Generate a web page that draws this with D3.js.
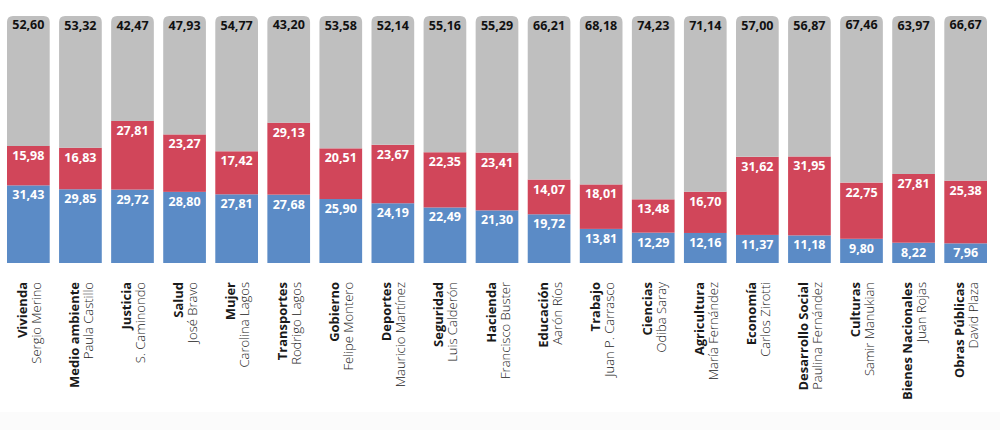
<!DOCTYPE html>
<html>
<head>
<meta charset="utf-8">
<script src="https://cdn.jsdelivr.net/npm/d3@7"></script>
<style>
  body { margin: 0; background: #fff; }
  svg { display: block; font-family: "Open Sans", "Noto Sans", sans-serif; }
  .val { font-size: 12.5px; font-weight: 700; text-anchor: middle; }
  .cat { font-size: 13px; font-weight: 700; fill: #1a1a1a; }
  .who { font-size: 13px; font-weight: 300; fill: #222; }
</style>
</head>
<body>
<div id="chart"></div>
<script>
// Ministerios y ministros
const ministries = ['Vivienda', 'Medio ambiente', 'Justicia', 'Salud', 'Mujer', 'Transportes', 'Gobierno',
    'Deportes', 'Seguridad', 'Hacienda', 'Educación', 'Trabajo', 'Ciencias', 'Agricultura', 'Economía',
    'Desarrollo Social', 'Culturas', 'Bienes Nacionales', 'Obras Públicas'];
const ministers = ['Sergio Merino', 'Paula Castillo', 'S. Caminondo', 'José Bravo', 'Carolina Lagos', 'Rodrigo Lagos',
    'Felipe Montero', 'Mauricio Martínez', 'Luis Calderón', 'Francisco Buster', 'Aarón Ríos', 'Juan P. Carrasco',
    'Odiba Saray', 'María Fernández', 'Carlos Zirotti', 'Paulina Fernández', 'Samir Manukian', 'Juan Rojas', 'David Plaza'];

// Series (%), stacked from bottom: blue, red, gray
const blueValues = [31.43, 29.85, 29.72, 28.80, 27.81, 27.68, 25.90, 24.19, 22.49, 21.30, 19.72, 13.81, 12.29, 12.16, 11.37, 11.18, 9.80, 8.22, 7.96];
const redValues = [15.98, 16.83, 27.81, 23.27, 17.42, 29.13, 20.51, 23.67, 22.35, 23.41, 14.07, 18.01, 13.48, 16.70, 31.62, 31.95, 22.75, 27.81, 25.38];
const grayValues = [52.60, 53.32, 42.47, 47.93, 54.77, 43.20, 53.58, 52.14, 55.16, 55.29, 66.21, 68.18, 74.23, 71.14, 57.00, 56.87, 67.46, 63.97, 66.67];

const W = 1000, H = 430;
const colors = { blue: '#5b8bc6', red: '#d1465a', gray: '#bfbfbf' };

const svg = d3.select('#chart').append('svg')
    .attr('width', W)
    .attr('height', H);

// faint band at the very bottom
svg.append('rect')
    .attr('x', 0).attr('y', 412)
    .attr('width', W).attr('height', H - 412)
    .attr('fill', '#fbfbfb');

const data = ministries.map((m, i) => ({
    ministry: m,
    minister: ministers[i],
    blue: blueValues[i],
    red: redValues[i],
    gray: grayValues[i]
}));

const x = d3.scaleBand()
    .domain(ministries)
    .range([7, 987])
    .paddingInner(0.18)
    .paddingOuter(0);

const y = d3.scaleLinear()
    .domain([0, 100])
    .range([263, 16]);

const stack = d3.stack().keys(['blue', 'red', 'gray']);
const series = stack(data);

const radius = 6;

// Bars
series.forEach(s => {
    const g = svg.append('g').attr('class', 'layer-' + s.key);
    if (s.key === 'gray') {
        // rounded top corners only
        g.selectAll('path')
            .data(s)
            .enter()
            .append('path')
            .attr('fill', colors[s.key])
            .attr('d', d => {
                const x0 = x(d.data.ministry), w = x.bandwidth();
                const yTop = y(d[1]), yBot = y(d[0]);
                return `M${x0},${yBot} L${x0},${yTop + radius} Q${x0},${yTop} ${x0 + radius},${yTop}` +
                    ` L${x0 + w - radius},${yTop} Q${x0 + w},${yTop} ${x0 + w},${yTop + radius} L${x0 + w},${yBot} Z`;
            });
    } else {
        g.selectAll('rect')
            .data(s)
            .enter()
            .append('rect')
            .attr('x', d => x(d.data.ministry))
            .attr('y', d => y(d[1]))
            .attr('width', x.bandwidth())
            .attr('height', d => y(d[0]) - y(d[1]))
            .attr('fill', colors[s.key]);
    }

    // Value labels near the top of each segment
    g.selectAll('text')
        .data(s)
        .enter()
        .append('text')
        .attr('class', 'val')
        .attr('x', d => x(d.data.ministry) + x.bandwidth() / 2)
        .attr('y', d => y(d[1]) + (s.key === 'gray' ? 13.5 : 14))
        .attr('fill', s.key === 'gray' ? '#111' : '#fff')
        .text(d => d3.format('.2f')(d.data[s.key]).replace('.', ','));
});

// Category labels, rotated
const labels = svg.append('g')
    .selectAll('g')
    .data(data)
    .enter()
    .append('g')
    .attr('transform', d => `translate(${x(d.ministry) + x.bandwidth() / 2}, 282) rotate(-90)`);

labels.append('text')
    .attr('class', 'cat')
    .attr('text-anchor', 'end')
    .attr('x', 0)
    .attr('y', -1.5)
    .text(d => d.ministry);

labels.append('text')
    .attr('class', 'who')
    .attr('text-anchor', 'end')
    .attr('x', 0)
    .attr('y', 12.5)
    .text(d => d.minister);
</script>
</body>
</html>
